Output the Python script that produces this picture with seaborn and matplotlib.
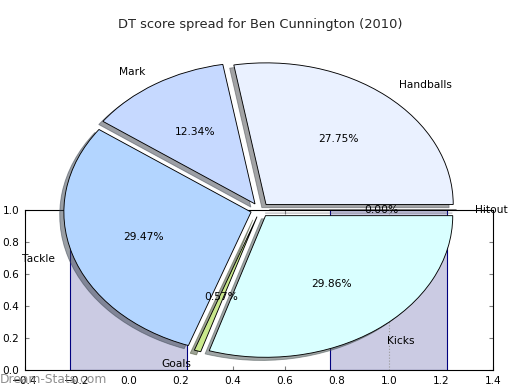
import numpy as np
import matplotlib
matplotlib.use("Agg")
import matplotlib.pyplot as plt
import seaborn as sns
import pandas as pd

# ---- data ----
categories = ["Handballs", "Mark", "Tackle", "Goals", "Kicks", "Hitout"]
shares = [27.75, 12.34, 29.47, 0.57, 29.86, 0.00]
wedge_colors = ["#eaf1ff", "#c6d9ff", "#b3d5ff", "#c9e88c", "#d9ffff", "#e0e0ff"]
bar_positions = ["0", "1"]
bar_heights = [1.0, 1.0]
xtick_values = [-0.4, -0.2, 0.0, 0.2, 0.4, 0.6, 0.8, 1.0, 1.2, 1.4]
ytick_values = [0.0, 0.2, 0.4, 0.6, 0.8, 1.0]
title = "DT score spread for Ben Cunnington (2010)"
watermark = "Dream-Stats.com"

sns.set_theme(style="white")
plt.rcParams['font.family'] = ['DejaVu Sans']
plt.rcParams['axes.unicode_minus'] = True

fig = plt.figure(figsize=(6.5, 4.875), dpi=80)

# ---- background bar axes ----
ax = fig.add_axes([0.048, 0.0513, 0.9, 0.41])
df = pd.DataFrame({"pos": bar_positions, "h": bar_heights})
sns.barplot(data=df, x="pos", y="h", ax=ax, width=0.45, color="#cbcbe3",
            saturation=1, edgecolor="#00007f", linewidth=1, errorbar=None)
ax.axvline(1.0, ls=':', color='0.6', lw=1, zorder=3)
ax.set_xlim(-0.4, 1.4)
ax.set_ylim(0, 1)
ax.set_xticks(xtick_values)
ax.set_xticklabels([f"{v:.1f}".replace("-", "\u2212") for v in xtick_values])
ax.set_yticks(ytick_values)
ax.set_yticklabels([f"{v:.1f}" for v in ytick_values])
ax.set_xlabel("")
ax.set_ylabel("")
for s in ax.spines.values():
    s.set_color("black")
    s.set_linewidth(1)
    s.set_visible(True)
ax.tick_params(direction="in", length=4, width=1, top=True, right=True,
               bottom=True, left=True, color="0.5", labelcolor="black",
               labelsize=9.5, pad=5)
ax.set_facecolor("white")

# ---- pie axes ----
pax = fig.add_axes([0.05, 0.0077, 0.9, 0.908])
pax.patch.set_alpha(0)
wedges, texts, autotexts = pax.pie(
    shares, labels=categories, colors=wedge_colors, explode=[0.05] * len(shares),
    autopct='%1.2f%%', shadow=True,
    wedgeprops=dict(edgecolor="black", linewidth=0.8),
    textprops=dict(fontsize=9.6, color="black"))
pax.set_aspect('auto')
pax.set_xlim(-1.25, 1.25)
pax.set_ylim(-1.25, 1.25)
pax.set_title(title, fontsize=11.7, pad=4)

fig.text(0.0, 0.026, watermark, fontsize=11, color="0.45", alpha=0.8,
         va="center", ha="left", zorder=10)

fig.savefig("out.png", dpi=80)
